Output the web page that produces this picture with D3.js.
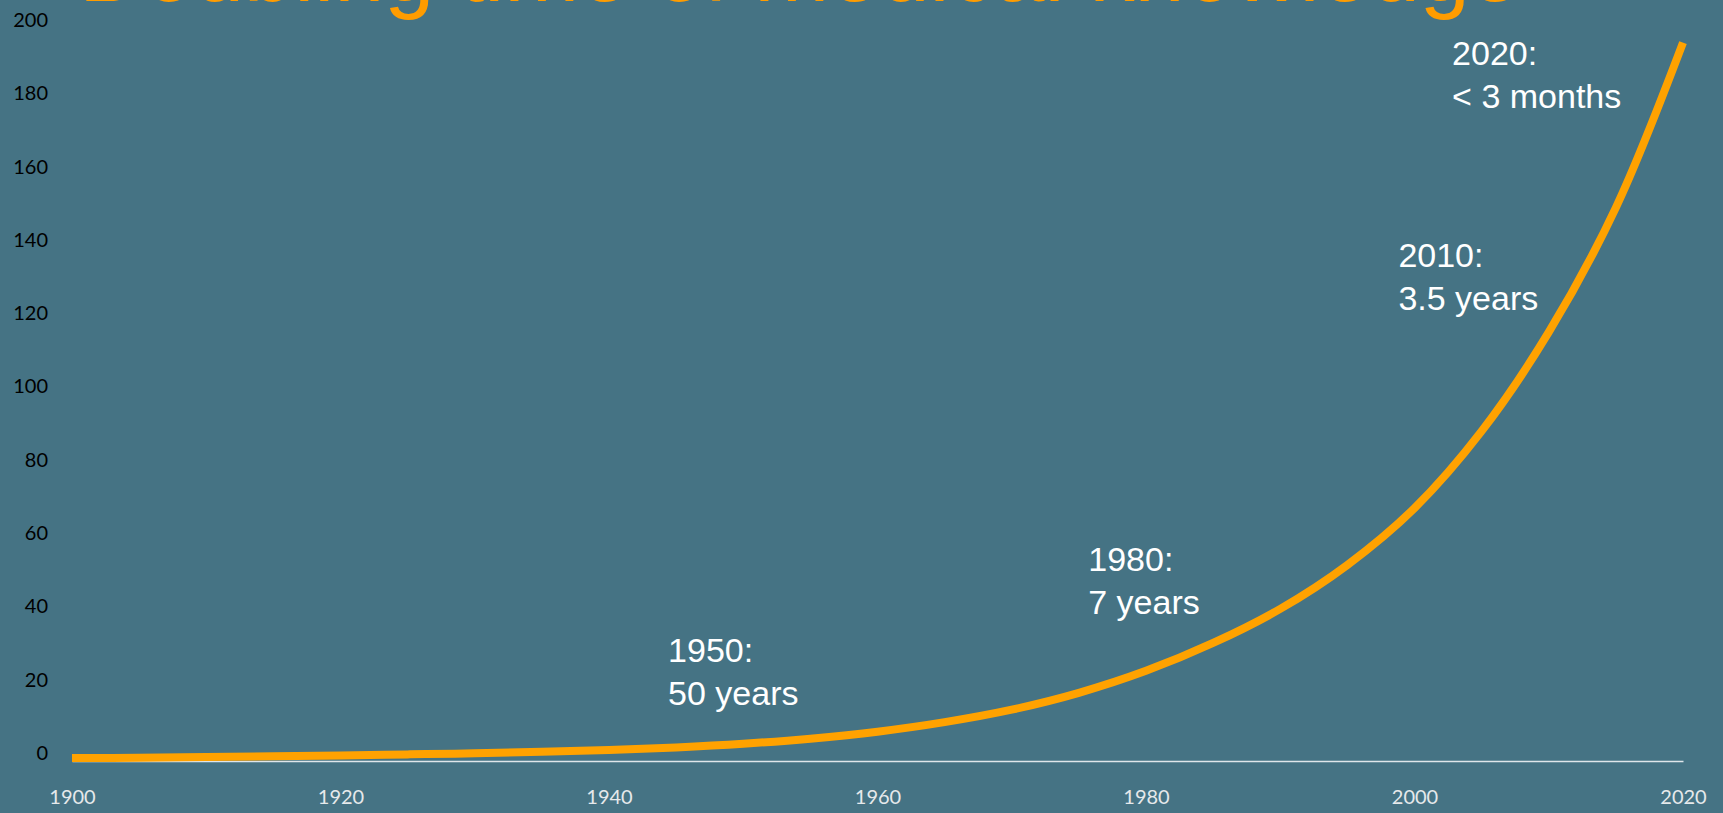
<!DOCTYPE html>
<html>
<head>
<meta charset="utf-8">
<script src="https://cdn.jsdelivr.net/npm/d3@7"></script>
<style>
  html, body { margin: 0; padding: 0; background: #457384; overflow: hidden; }
  svg { display: block; }
</style>
</head>
<body>
<svg id="chart"></svg>
<script>
const width = 1723
const height = 813

const years = [1900, 1905, 1910, 1915, 1920, 1925, 1930, 1935, 1940, 1945, 1950, 1955, 1960,
  1965, 1970, 1975, 1980, 1985, 1990, 1995, 2000, 2005, 2010, 2015, 2020]
const knowledge = [0.8, 0.9, 1.1, 1.3, 1.5, 1.8, 2.1, 2.5, 3.0, 3.7, 4.7, 6.1, 8.0,
  10.6, 14.0, 18.6, 24.6, 32.2, 41.5, 53.5, 69, 90, 117, 151, 196]

const xTicks = [1900, 1920, 1940, 1960, 1980, 2000, 2020]
const yTicks = [0, 20, 40, 60, 80, 100, 120, 140, 160, 180, 200]

const title = 'Doubling time of medical knowledge'
const noteLines = [
  ['1950:', '50 years'],
  ['1980:', '7 years'],
  ['2010:', '3.5 years'],
  ['2020:', '< 3 months']
]
// where each note starts, in chart units (year, value)
const noteYears = [1944.4, 1975.7, 1998.8, 2002.8]
const noteValues = [27, 51.8, 134.7, 189.8]

const svg = d3.select('#chart').attr('width', width).attr('height', height)

const x = d3.scaleLinear().domain([1900, 2020]).range([72, 1683])
const y = d3.scaleLinear().domain([0, 200]).range([761, 28])

// title sits mostly above the frame, only its lower edge shows
svg.append('text')
  .attr('x', 79)
  .attr('y', 1)
  .attr('font-family', '"Liberation Sans", Arial, sans-serif')
  .attr('font-size', 90)
  .attr('fill', '#ff9c00')
  .text(title)

const yAxis = svg.append('g')
  .attr('transform', 'translate(56,-8)')
  .call(d3.axisLeft(y).tickValues(yTicks).tickSize(0).tickPadding(8))
yAxis.select('.domain').remove()
yAxis.selectAll('text')
  .attr('font-family', 'Lato, "Open Sans", sans-serif')
  .attr('font-size', 20)
  .attr('fill', '#000')

const xAxis = svg.append('g')
  .attr('transform', `translate(0,${y(0)})`)
  .call(d3.axisBottom(x).tickValues(xTicks).tickFormat(d3.format('d')).tickSize(0).tickPadding(29))
xAxis.select('.domain')
  .attr('stroke', '#dfe6ea')
  .attr('stroke-width', 1.5)
xAxis.selectAll('text')
  .attr('font-family', 'Lato, "Open Sans", sans-serif')
  .attr('font-size', 20)
  .attr('fill', '#e6e9eb')

const line = d3.line()
  .x((d, i) => x(years[i]))
  .y(d => y(d))
  .curve(d3.curveCatmullRom.alpha(0.5))

svg.append('path')
  .datum(knowledge)
  .attr('d', line)
  .attr('fill', 'none')
  .attr('stroke', '#ffa200')
  .attr('stroke-width', 8)

const notes = svg.append('g')
  .attr('font-family', '"Liberation Sans", Arial, sans-serif')
  .attr('font-size', 34)
  .attr('fill', '#fff')

noteLines.forEach((lines, i) => {
  const t = notes.append('text')
    .attr('x', x(noteYears[i]))
    .attr('y', y(noteValues[i]))
  t.selectAll('tspan').data(lines).enter().append('tspan')
    .attr('x', x(noteYears[i]))
    .attr('dy', (d, j) => j === 0 ? 0 : 43)
    .text(d => d)
})
</script>
</body>
</html>
